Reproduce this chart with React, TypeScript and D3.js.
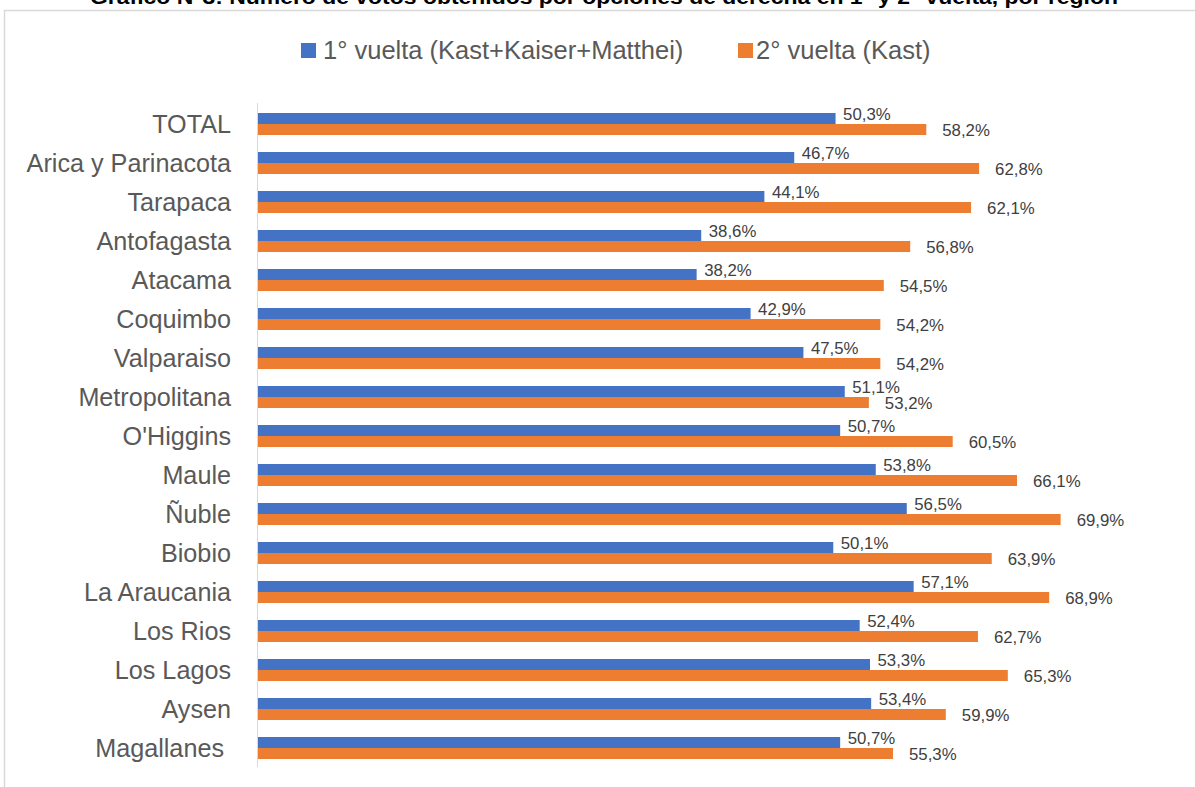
import * as d3 from "d3";

const categories = [
  "TOTAL",
  "Arica y Parinacota",
  "Tarapaca",
  "Antofagasta",
  "Atacama",
  "Coquimbo",
  "Valparaiso",
  "Metropolitana",
  "O'Higgins",
  "Maule",
  "Ñuble",
  "Biobio",
  "La Araucania",
  "Los Rios",
  "Los Lagos",
  "Aysen",
  "Magallanes ",
];

const primeraVuelta = [
  50.3, 46.7, 44.1, 38.6, 38.2, 42.9, 47.5, 51.1, 50.7, 53.8, 56.5, 50.1, 57.1, 52.4, 53.3, 53.4, 50.7,
];
const segundaVuelta = [
  58.2, 62.8, 62.1, 56.8, 54.5, 54.2, 54.2, 53.2, 60.5, 66.1, 69.9, 63.9, 68.9, 62.7, 65.3, 59.9, 55.3,
];

const seriesNames = ["1° vuelta (Kast+Kaiser+Matthei)", "2° vuelta (Kast)"];
const colors = ["#4472C4", "#ED7D31"];
const title =
  "Gráfico N°3: Número de votos obtenidos por opciones de derecha en 1° y 2° vuelta, por región";

const W = 1195;
const H = 787;
const FONT = "'Liberation Sans', Arial, sans-serif";

export default function App() {
  const x = d3.scaleLinear().domain([0, 80]).range([258, 1176.6]);
  const y = d3
    .scaleBand<string>()
    .domain(categories)
    .range([104.5, 767.5])
    .paddingInner(0.436)
    .paddingOuter(0.218);
  const half = y.bandwidth() / 2;
  const fmt = (v: number) => d3.format(".1f")(v).replace(".", ",") + "%";

  return (
    <svg width={W} height={H} style={{ position: "absolute", left: 0, top: 0 }}>
      <rect x={4.5} y={10.5} width={1210} height={800} fill="#fff" stroke="#d9d9d9" strokeWidth={1.5} />
      {/* title is cropped at the top edge, as in the source image */}
      <text
        x={604}
        y={4}
        textAnchor="middle"
        fontFamily={FONT}
        fontWeight="bold"
        fontSize={20}
        fill="#000"
        textLength={1028}
        lengthAdjust="spacingAndGlyphs"
      >
        {title}
      </text>

      {/* legend */}
      <g fontFamily={FONT} fontSize={25.5} fill="#595959">
        <rect x={301} y={43} width={15} height={15} fill={colors[0]} />
        <text x={323} y={50.5} dy="0.35em">
          {seriesNames[0]}
        </text>
        <rect x={738} y={43} width={15} height={15} fill={colors[1]} />
        <text x={756} y={50.5} dy="0.35em">
          {seriesNames[1]}
        </text>
      </g>

      {/* category axis */}
      <line x1={257.5} x2={257.5} y1={103} y2={767} stroke="#d9d9d9" strokeWidth={1} />
      <g fontFamily={FONT} fontSize={25.2} fill="#595959" textAnchor="end">
        {categories.map((c) => (
          <text key={c} x={231} y={y(c)! + half} dy="0.35em" style={{ whiteSpace: "pre" }}>
            {c}
          </text>
        ))}
      </g>

      {/* bars */}
      {categories.map((c, i) => {
        const top = y(c)!;
        return (
          <g key={c}>
            <rect x={x(0)} y={top} width={x(primeraVuelta[i]) - x(0)} height={half} fill={colors[0]} />
            <rect x={x(0)} y={top + half} width={x(segundaVuelta[i]) - x(0)} height={half} fill={colors[1]} />
            <text
              x={x(primeraVuelta[i]) + 7.5}
              y={top + half / 2 - 4}
              dy="0.35em"
              fontFamily={FONT}
              fontSize={16.8}
              fill="#404040"
            >
              {fmt(primeraVuelta[i])}
            </text>
            <text
              x={x(segundaVuelta[i]) + 16}
              y={top + half * 1.5 + 0.5}
              dy="0.35em"
              fontFamily={FONT}
              fontSize={16.8}
              fill="#404040"
            >
              {fmt(segundaVuelta[i])}
            </text>
          </g>
        );
      })}
    </svg>
  );
}
